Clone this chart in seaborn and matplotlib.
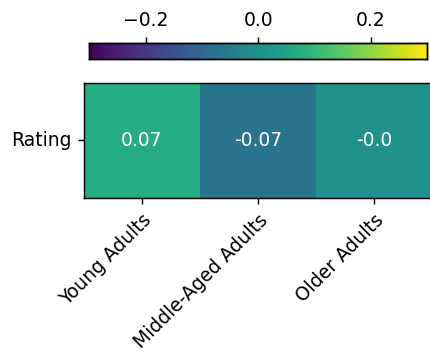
import numpy as np
import pandas as pd
import matplotlib
matplotlib.use("Agg")
import matplotlib.pyplot as plt
import seaborn as sns

# Correlation of rating with each age group
age_groups = ["Young Adults", "Middle-Aged Adults", "Older Adults"]
row_labels = ["Rating"]
rating_corr = [0.07, -0.07, -0.0]

df = pd.DataFrame([rating_corr], index=row_labels, columns=age_groups)
annot_text = np.array([[str(v) for v in rating_corr]])

plt.rcParams["font.size"] = 10.4

DPI = 130
fig = plt.figure(figsize=(430 / DPI, 356 / DPI), dpi=DPI)

W, H = 430.0, 356.0
def px_axes(left, top, right, bottom):
    return fig.add_axes([left / W, 1 - bottom / H, (right - left) / W, (bottom - top) / H])

ax = px_axes(84, 83, 432, 197.7)
cax = px_axes(89.3, 42.7, 427.3, 59.3)

sns.heatmap(
    df, ax=ax, cbar_ax=cax, cmap="viridis", vmin=-0.3, vmax=0.3,
    annot=annot_text, fmt="", annot_kws={"color": "white", "fontsize": 10.4},
    cbar_kws={"orientation": "horizontal", "ticks": [-0.2, 0.0, 0.2]},
)

cax.xaxis.set_ticks_position("top")
cax.xaxis.set_label_position("top")
cax.tick_params(labelsize=10.4)
for sp in cax.spines.values():
    sp.set_visible(True)
    sp.set_linewidth(0.8)

for sp in ax.spines.values():
    sp.set_visible(True)
    sp.set_linewidth(0.8)

ax.set_xlabel("")
ax.set_ylabel("")
ax.tick_params(labelsize=10.4)
plt.setp(ax.get_yticklabels(), rotation=0)
plt.setp(ax.get_xticklabels(), rotation=45, ha="right", rotation_mode="anchor")

fig.savefig("out.png", dpi=DPI)
